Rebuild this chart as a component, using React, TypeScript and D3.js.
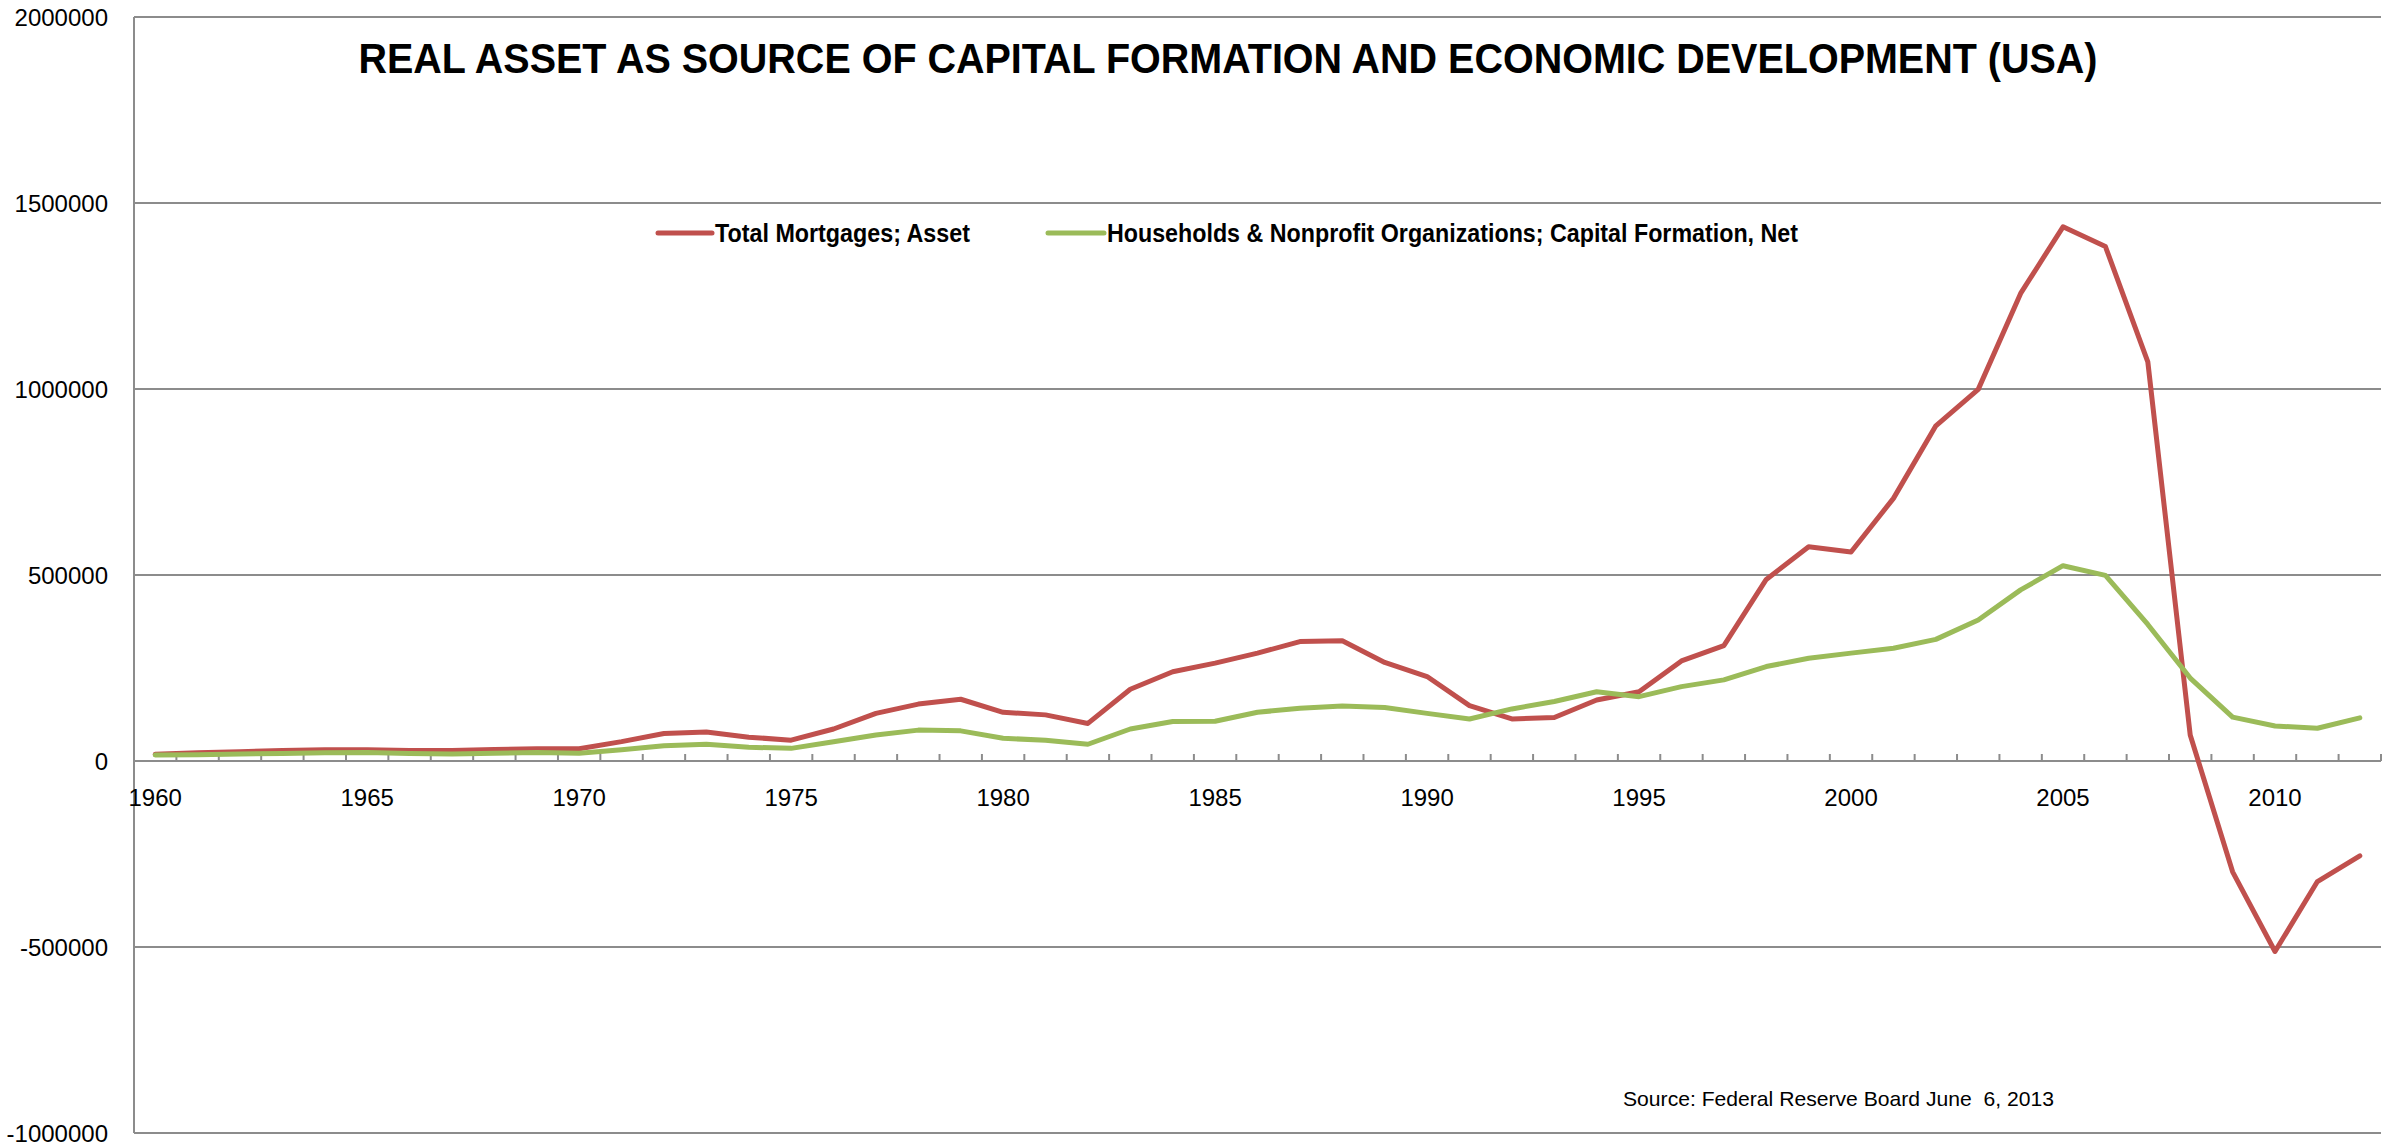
import React from "react";
import * as d3 from "d3";

const years: number[] = d3.range(1960, 2013);
const mortgages: number[] = [
  18000, 22000, 25000, 28000, 30000, 30000, 28000, 28000, 31000, 33000,
  33000, 52000, 74000, 78000, 64000, 56000, 86000, 128000, 153000, 166000,
  131000, 124000, 101000, 193000, 240000, 263000, 290000, 321000, 323000, 265000,
  227000, 149000, 113000, 117000, 164000, 186000, 269000, 310000, 488000, 576000,
  562000, 706000, 901000, 999000, 1257000, 1436000, 1383000, 1073000, 70000, -298000,
  -512000, -324000, -255000,
];
const capitalFormation: number[] = [
  16000, 17000, 19000, 20000, 22000, 23000, 20000, 19000, 21000, 23000,
  21000, 30000, 41000, 45000, 37000, 34000, 52000, 70000, 83000, 81000,
  61000, 56000, 45000, 86000, 106000, 107000, 131000, 142000, 148000, 144000,
  128000, 113000, 140000, 160000, 186000, 173000, 200000, 218000, 254000, 276000,
  290000, 303000, 327000, 379000, 460000, 525000, 499000, 367000, 223000, 118000,
  94000, 88000, 116000,
];
const yTicks: number[] = [-1000000, -500000, 0, 500000, 1000000, 1500000, 2000000];
const xLabelYears: number[] = [1960, 1965, 1970, 1975, 1980, 1985, 1990, 1995, 2000, 2005, 2010];
const seriesNames: string[] = [
  "Total Mortgages; Asset",
  "Households & Nonprofit Organizations; Capital Formation, Net",
];
const title = "REAL ASSET AS SOURCE OF CAPITAL FORMATION AND ECONOMIC DEVELOPMENT (USA)";
const source = "Source: Federal Reserve Board June  6, 2013";

const W = 2400;
const H = 1143;
const left = 134;
const right = 2381;
const top = 17;
const bottom = 1133;
const RED = "#C0504D";
const GREEN = "#9BBB59";
const GRID = "#8C8C8C";
const FONT = "'Liberation Sans', Arial, sans-serif";

export default function App() {
  const x = d3.scaleBand<number>().domain(years).range([left, right]).padding(0);
  const y = d3.scaleLinear().domain([-1000000, 2000000]).range([bottom, top]);
  const cx = (yr: number) => (x(yr) as number) + x.bandwidth() / 2;

  const line = d3
    .line<number>()
    .x((_, i) => cx(years[i]))
    .y((d) => y(d));

  const boundaries = years.map((yr) => x(yr) as number).concat([right]);
  const y0 = y(0);

  return (
    <svg
      width={W}
      height={H}
      style={{ position: "absolute", left: 0, top: 0, background: "#fff" }}
      fontFamily={FONT}
    >
      <rect x={0} y={0} width={W} height={H} fill="#fff" />
      {yTicks.map((t) => (
        <line key={t} x1={left} x2={right} y1={y(t)} y2={y(t)} stroke={GRID} strokeWidth={2} />
      ))}
      <line x1={left} x2={left} y1={top} y2={bottom} stroke={GRID} strokeWidth={2} />
      {yTicks.map((t) => (
        <text
          key={"yl" + t}
          x={108}
          y={y(t)}
          textAnchor="end"
          dominantBaseline="central"
          fontSize={24}
          fill="#000"
        >
          {t}
        </text>
      ))}
      {boundaries.map((bx, i) => (
        <line key={"tk" + i} x1={bx} x2={bx} y1={y0} y2={y0 - 7} stroke={GRID} strokeWidth={2} />
      ))}
      {xLabelYears.map((yr) => (
        <text
          key={"xl" + yr}
          x={cx(yr)}
          y={797}
          textAnchor="middle"
          dominantBaseline="central"
          fontSize={24}
          fill="#000"
        >
          {yr}
        </text>
      ))}
      <path d={line(mortgages) || ""} fill="none" stroke={RED} strokeWidth={5} strokeLinejoin="round" strokeLinecap="round" />
      <path d={line(capitalFormation) || ""} fill="none" stroke={GREEN} strokeWidth={5} strokeLinejoin="round" strokeLinecap="round" />
      <text
        x={1228}
        y={73}
        textAnchor="middle"
        fontSize={42}
        fontWeight="bold"
        textLength={1739}
        lengthAdjust="spacingAndGlyphs"
        fill="#000"
      >
        {title}
      </text>
      <line x1={658} x2={712} y1={233} y2={233} stroke={RED} strokeWidth={5} strokeLinecap="round" />
      <text x={715} y={242} fontSize={25} fontWeight="bold" textLength={255} lengthAdjust="spacingAndGlyphs" fill="#000">
        {seriesNames[0]}
      </text>
      <line x1={1048} x2={1104} y1={233} y2={233} stroke={GREEN} strokeWidth={5} strokeLinecap="round" />
      <text x={1107} y={242} fontSize={25} fontWeight="bold" textLength={691} lengthAdjust="spacingAndGlyphs" fill="#000">
        {seriesNames[1]}
      </text>
      <text
        x={1623}
        y={1106}
        fontSize={21}
        textLength={431}
        lengthAdjust="spacingAndGlyphs"
        fill="#000"
        style={{ whiteSpace: "pre" }}
      >
        {source}
      </text>
    </svg>
  );
}
